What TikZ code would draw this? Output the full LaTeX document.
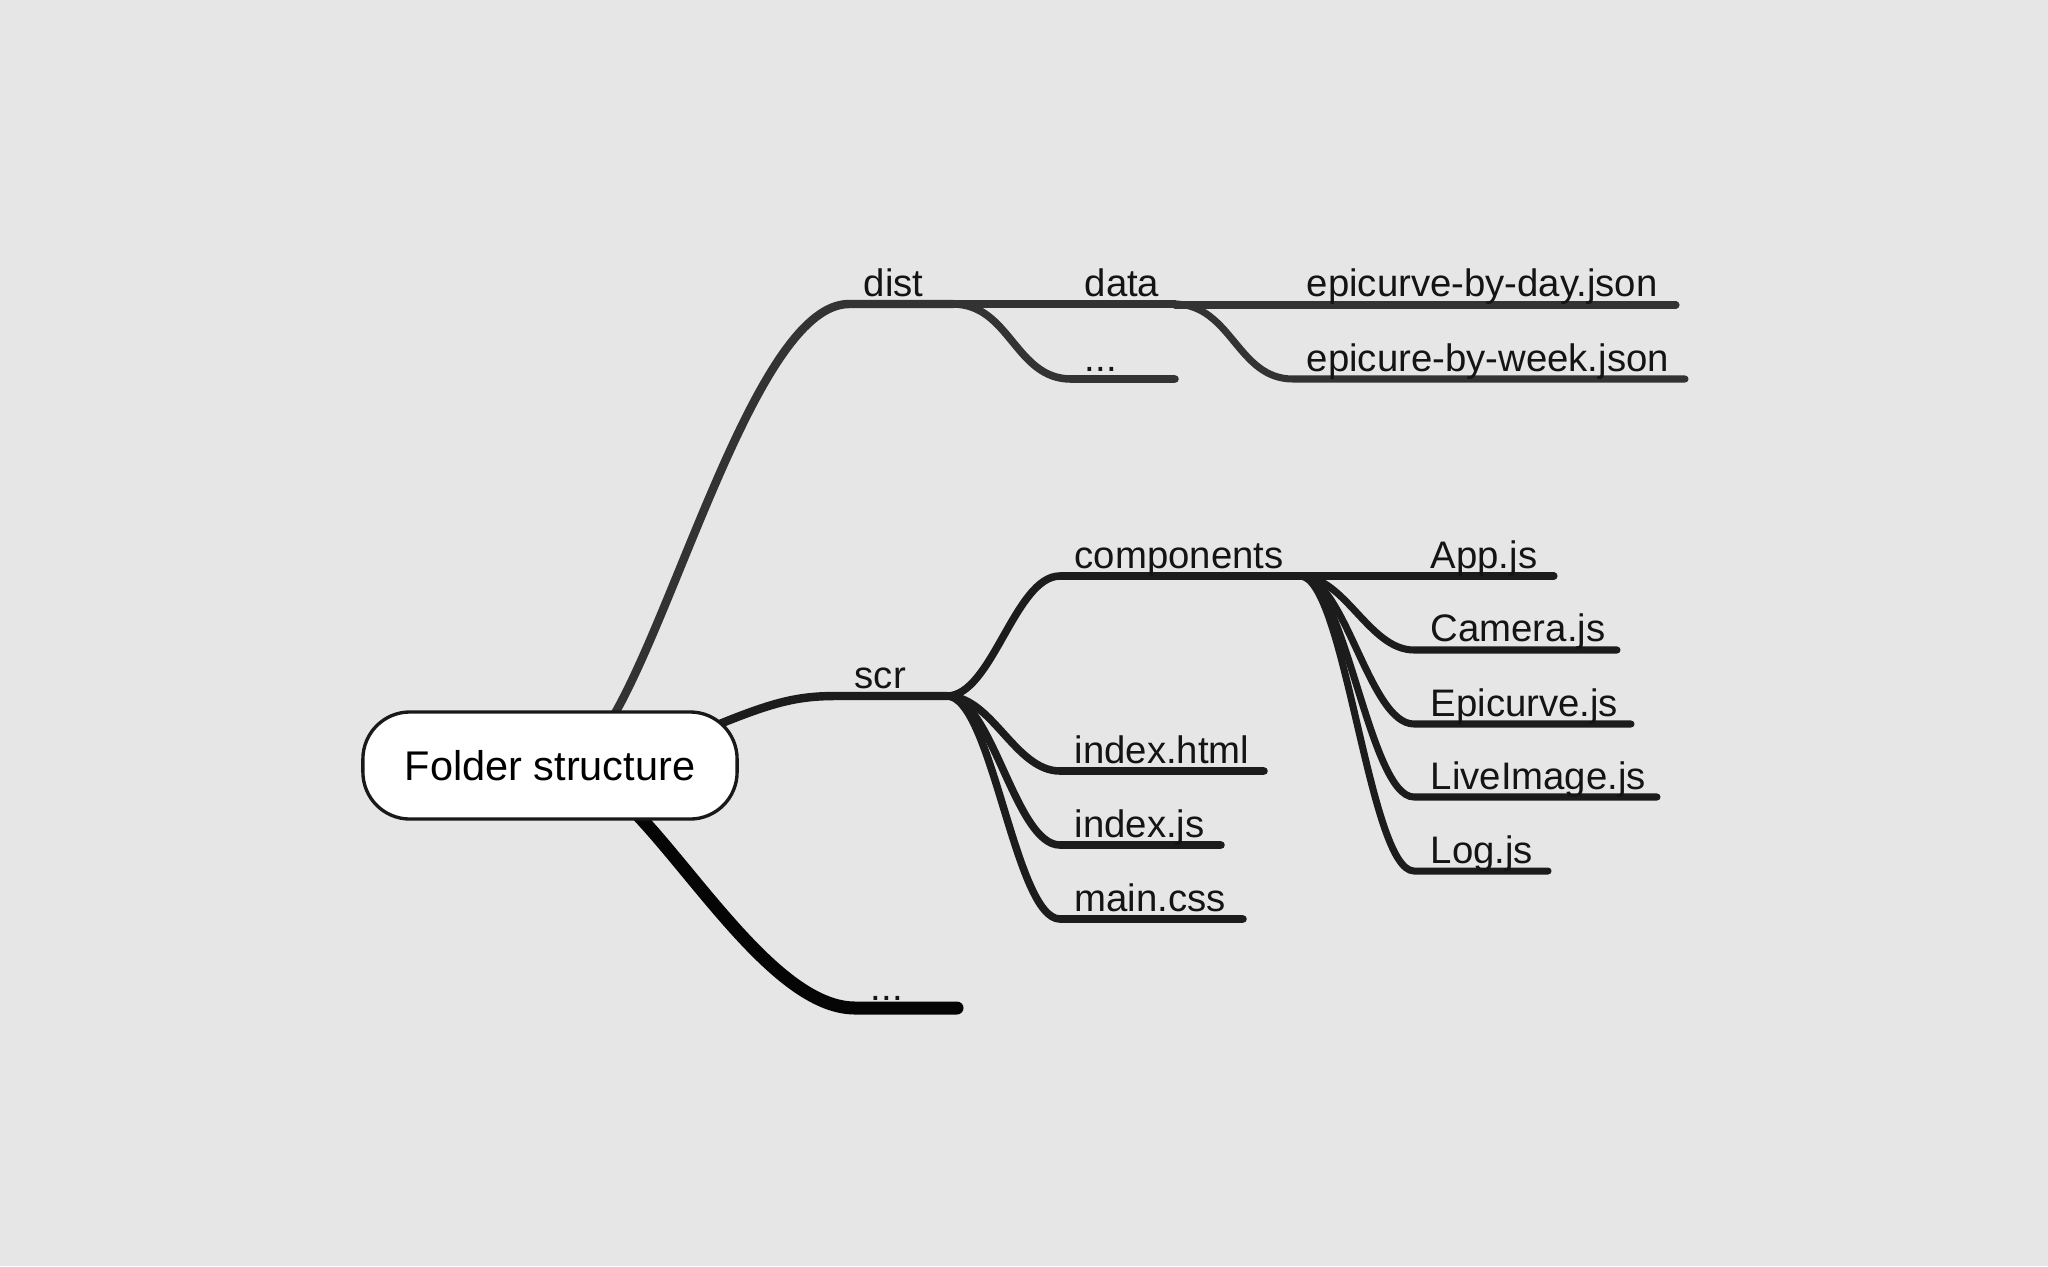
\documentclass[tikz,border=0pt]{standalone}
\usepackage{fontspec}
\setmainfont{Liberation Sans}
\pgfdeclarelayer{bg}
\pgfdeclarelayer{lines}
\pgfsetlayers{bg,lines,main}
\definecolor{bggray}{HTML}{E6E6E6}
\definecolor{distc}{HTML}{333333}
\definecolor{scrc}{HTML}{1C1C1C}
\definecolor{lastc}{HTML}{050505}
\begin{document}
\begin{tikzpicture}[x=0.01cm,y=-0.01cm,
  br/.style={line cap=round, line join=round},
  lv1/.style={br, line width=2.4pt},
  lv2/.style={br, line width=2.15pt},
  lv3/.style={br, line width=2pt},
  lbl/.style={anchor=base west, inner sep=0pt, text=black!92, font=\fontsize{10.9}{13}\selectfont},
  rootbox/.style={draw=black!90, fill=white, line width=0.95pt, rounded corners=0.47cm,
    minimum width=3.74cm, minimum height=1.07cm, inner sep=0pt, font=\fontsize{11.8}{14}\selectfont}
]
\begin{pgfonlayer}{bg}
\fill[bggray] (0,0) rectangle (2048,1266);
\end{pgfonlayer}
\useasboundingbox (0,0) rectangle (2048,1266);

% root
\node[rootbox] (root) at (550,765.5) {Folder structure};

% anchor coordinates
\coordinate (r-dist) at (614,715);
\coordinate (r-scr) at (705,730);
\coordinate (r-more) at (635,812);

\coordinate (dist-s) at (849,304);  \coordinate (dist-e) at (953,304);
\coordinate (data-s) at (953,304);  \coordinate (data-e) at (1175,304);
\coordinate (dd-s) at (1071,379);   \coordinate (dd-e) at (1175,379);
\coordinate (day-s) at (1175,305);  \coordinate (day-e) at (1676,305);
\coordinate (week-s) at (1293,379); \coordinate (week-e) at (1685,379);

\coordinate (scr-s) at (836,696);   \coordinate (scr-e) at (947,696);
\coordinate (comp-s) at (1060,576); \coordinate (comp-e) at (1300,576);
\coordinate (html-s) at (1060,771); \coordinate (html-e) at (1264,771);
\coordinate (ijs-s) at (1060,845);  \coordinate (ijs-e) at (1221,845);
\coordinate (css-s) at (1060,919);  \coordinate (css-e) at (1243,919);

\coordinate (app-s) at (1300,576);  \coordinate (app-e) at (1554,576);
\coordinate (cam-s) at (1414,650);  \coordinate (cam-e) at (1617,650);
\coordinate (epi-s) at (1414,724);  \coordinate (epi-e) at (1631,724);
\coordinate (live-s) at (1414,797); \coordinate (live-e) at (1657,797);
\coordinate (log-s) at (1414,871);  \coordinate (log-e) at (1548,871);

\coordinate (more-s) at (855,1008); \coordinate (more-e) at (957,1008);

% labels
\node[lbl] (t-dist) at (863,296) {dist};
\node[lbl] (t-data) at (1084,296) {data};
\node[lbl] (t-dd) at (1084,371) {...};
\node[lbl] (t-day) at (1306,296) {epicurve-by-day.json};
\node[lbl] (t-week) at (1306,371) {epicure-by-week.json};
\node[lbl] (t-scr) at (854,688) {scr};
\node[lbl] (t-comp) at (1074,568) {components};
\node[lbl] (t-html) at (1074,763) {index.html};
\node[lbl] (t-ijs) at (1074,837) {index.js};
\node[lbl] (t-css) at (1074,911) {main.css};
\node[lbl] (t-app) at (1430,568) {App.js};
\node[lbl] (t-cam) at (1430,641) {Camera.js};
\node[lbl] (t-epi) at (1430,716) {Epicurve.js};
\node[lbl] (t-live) at (1430,789) {LiveImage.js};
\node[lbl] (t-log) at (1430,863) {Log.js};
\node[lbl] (t-more) at (870,1000) {...};

\begin{pgfonlayer}{lines}
% dist branch
\draw[lv1, distc] (r-dist) .. controls (680,600) and (760,304) .. (dist-s) -- (dist-e);
\draw[lv2, distc] (data-s) -- (data-e);
\draw[lv2, distc] (dist-e) .. controls (1010,304) and (1015,379) .. (dd-s) -- (dd-e);
\draw[lv3, distc] (day-s) -- (day-e);
\draw[lv3, distc] (data-e) .. controls (1232,305) and (1237,379) .. (week-s) -- (week-e);

% scr branch
\draw[lv1, scrc] (r-scr) .. controls (770,703) and (795,696) .. (scr-s) -- (scr-e);
\draw[lv2, scrc] (scr-e) .. controls (992,696) and (1015,576) .. (comp-s) -- (comp-e);
\draw[lv2, scrc] (scr-e) .. controls (992,696) and (1015,771) .. (html-s) -- (html-e);
\draw[lv2, scrc] (scr-e) .. controls (992,696) and (1015,845) .. (ijs-s) -- (ijs-e);
\draw[lv2, scrc] (scr-e) .. controls (992,696) and (1015,919) .. (css-s) -- (css-e);

\draw[lv3, scrc] (app-s) -- (app-e);
\draw[lv3, scrc] (comp-e) .. controls (1345,576) and (1369,650) .. (cam-s) -- (cam-e);
\draw[lv3, scrc] (comp-e) .. controls (1345,576) and (1369,724) .. (epi-s) -- (epi-e);
\draw[lv3, scrc] (comp-e) .. controls (1345,576) and (1369,797) .. (live-s) -- (live-e);
\draw[lv3, scrc] (comp-e) .. controls (1345,576) and (1369,871) .. (log-s) -- (log-e);

% last branch
\draw[br, line width=3.7pt, lastc] (r-more) .. controls (700,880) and (780,1008) .. (more-s) -- (more-e);
\end{pgfonlayer}
\end{tikzpicture}
\end{document}
